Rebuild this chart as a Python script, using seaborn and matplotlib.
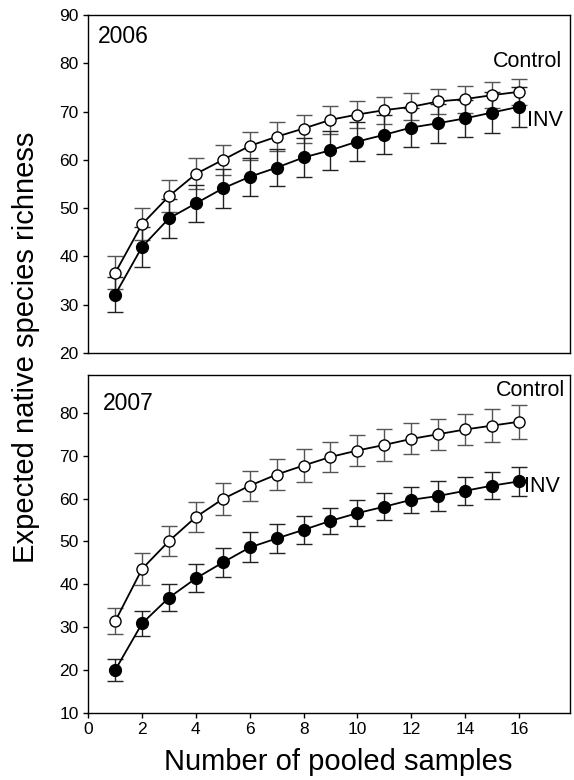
import matplotlib
matplotlib.use("Agg")
import matplotlib.pyplot as plt
import pandas as pd
import seaborn as sns

# pooled samples on the x axis
samples = list(range(1, 17))

# 2006 rarefaction curves
ctrl_2006 = [36.6, 46.7, 52.5, 57.1, 60.0, 62.9, 64.8, 66.5, 68.3, 69.4, 70.3, 71.0, 72.1, 72.6, 73.4, 74.1]
ctrl_2006_err = [3.4, 3.3, 3.3, 3.2, 3.1, 2.9, 3.0, 2.9, 2.9, 2.8, 2.8, 2.8, 2.6, 2.8, 2.7, 2.7]
inv_2006 = [32.1, 42.0, 47.9, 51.0, 54.1, 56.5, 58.4, 60.5, 62.0, 63.8, 65.2, 66.7, 67.6, 68.6, 69.8, 71.0]
inv_2006_err = [3.6, 4.1, 4.0, 3.9, 4.0, 3.9, 3.9, 4.0, 4.0, 4.0, 4.0, 4.0, 4.0, 3.9, 4.2, 4.1]

# 2007 rarefaction curves
ctrl_2007 = [31.4, 43.6, 50.1, 55.7, 59.9, 63.0, 65.6, 67.7, 69.7, 71.2, 72.5, 73.9, 75.0, 76.1, 77.0, 77.9]
ctrl_2007_err = [3.0, 3.7, 3.5, 3.6, 3.7, 3.5, 3.7, 3.8, 3.6, 3.7, 3.8, 3.6, 3.6, 3.6, 3.9, 4.0]
inv_2007 = [20.0, 30.9, 36.9, 41.4, 45.1, 48.6, 50.7, 52.7, 54.8, 56.6, 58.1, 59.7, 60.6, 61.8, 63.0, 64.0]
inv_2007_err = [2.6, 2.9, 3.1, 3.3, 3.3, 3.5, 3.4, 3.3, 3.1, 3.1, 3.2, 3.1, 3.4, 3.3, 3.2, 3.3]

x_ticks = [0, 2, 4, 6, 8, 10, 12, 14, 16]
top_yticks = [20, 30, 40, 50, 60, 70, 80, 90]
bottom_yticks = [10, 20, 30, 40, 50, 60, 70, 80]

sns.set_style("ticks")
plt.rcParams["font.family"] = ["Liberation Sans", "DejaVu Sans"]
plt.rcParams["text.color"] = "black"


def draw_panel(ax, ctrl, ctrl_err, inv, inv_err):
    df = pd.DataFrame({"n": samples, "Control": ctrl, "INV": inv})
    ax.errorbar(samples, ctrl, yerr=ctrl_err, fmt="none", ecolor="#555555",
                elinewidth=1.0, capsize=5.5, capthick=1.0, zorder=1)
    ax.errorbar(samples, inv, yerr=inv_err, fmt="none", ecolor="#222222",
                elinewidth=1.0, capsize=5.5, capthick=1.0, zorder=1)
    sns.lineplot(data=df, x="n", y="Control", ax=ax, color="black", lw=1.3,
                 marker="o", markersize=8, markerfacecolor="white",
                 markeredgecolor="black", markeredgewidth=1.0, zorder=3)
    sns.lineplot(data=df, x="n", y="INV", ax=ax, color="black", lw=1.3,
                 marker="o", markersize=8.5, markerfacecolor="black",
                 markeredgecolor="black", markeredgewidth=1.0, zorder=4)
    ax.set_xlim(0, 17.9)
    ax.set_xlabel("")
    ax.set_ylabel("")
    for s in ax.spines.values():
        s.set_visible(True)
        s.set_linewidth(1.0)
        s.set_color("black")
    ax.tick_params(direction="out", length=3.8, width=1, labelsize=12.5,
                   color="black", labelcolor="black", pad=3)


fig = plt.figure(figsize=(5.74, 7.80), dpi=100)
ax1 = fig.add_axes([0.1538, 0.5474, 0.8392, 0.4333])
ax2 = fig.add_axes([0.1538, 0.0859, 0.8392, 0.4333])

draw_panel(ax1, ctrl_2006, ctrl_2006_err, inv_2006, inv_2006_err)
ax1.set_ylim(20, 90)
ax1.set_yticks(top_yticks)
ax1.set_xticks([])
ax1.text(0.02, 0.97, "2006", transform=ax1.transAxes, ha="left", va="top", fontsize=16.5)
ax1.text(0.983, 0.864, "Control", transform=ax1.transAxes, ha="right", va="center", fontsize=15.5)
ax1.text(0.985, 0.688, "INV", transform=ax1.transAxes, ha="right", va="center", fontsize=15.5)

draw_panel(ax2, ctrl_2007, ctrl_2007_err, inv_2007, inv_2007_err)
ax2.set_ylim(10, 88.8)
ax2.set_yticks(bottom_yticks)
ax2.set_xticks(x_ticks)
ax2.text(0.031, 0.95, "2007", transform=ax2.transAxes, ha="left", va="top", fontsize=16.5)
ax2.text(0.99, 0.953, "Control", transform=ax2.transAxes, ha="right", va="center", fontsize=15.5)
ax2.text(0.979, 0.670, "INV", transform=ax2.transAxes, ha="right", va="center", fontsize=15.5)

fig.text(0.045, 0.555, "Expected native species richness", rotation=90,
         ha="center", va="center", fontsize=21)
fig.text(0.59, 0.0128, "Number of pooled samples", ha="center", va="baseline", fontsize=21)

fig.savefig("out.png", dpi=100)
